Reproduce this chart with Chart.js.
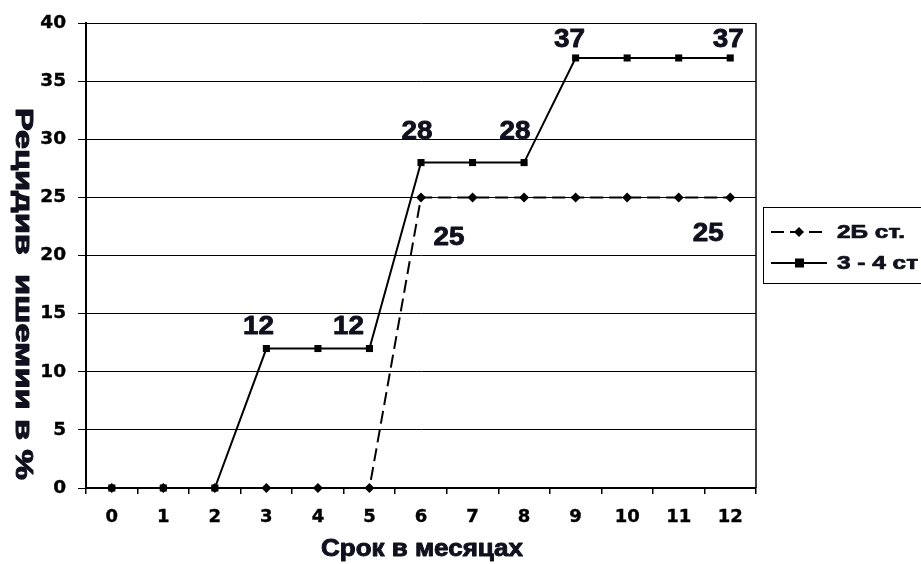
<!DOCTYPE html>
<html>
<head>
<meta charset="utf-8">
<script src="https://cdn.jsdelivr.net/npm/chart.js@4"></script>
<style>
  html, body { margin: 0; padding: 0; background: #fff; }
  #wrap { width: 921px; height: 564px; position: relative; }
</style>
</head>
<body>
<div id="wrap"><canvas id="myChart"></canvas></div>
<script>
const months = ['0', '1', '2', '3', '4', '5', '6', '7', '8', '9', '10', '11', '12'];
const stage2b = [0, 0, 0, 0, 0, 0, 25, 25, 25, 25, 25, 25, 25];
const stage34 = [0, 0, 0, 12, 12, 12, 28, 28, 28, 37, 37, 37, 37];
const yTicks = [0, 5, 10, 15, 20, 25, 30, 35, 40];
const label2b = [6, 12];
const label34 = [3, 5, 6, 8, 9, 12];

const FONT = '"Liberation Sans", Arial, sans-serif';
const TICKFONT = '"DejaVu Sans", sans-serif';
const INK = '#10101e';

// draws text stretched horizontally to a given width (the original image is stretched)
function drawFit(ctx, text, x, y, width, align, stroke) {
  const w = ctx.measureText(text).width;
  const k = width ? width / w : 1;
  ctx.save();
  ctx.translate(x, y);
  ctx.scale(k, 1);
  ctx.textAlign = align || 'center';
  ctx.fillText(text, 0, 0);
  if (stroke) {
    ctx.strokeStyle = ctx.fillStyle;
    ctx.lineWidth = stroke;
    ctx.lineJoin = 'round';
    ctx.strokeText(text, 0, 0);
  }
  ctx.restore();
  return k;
}

// value labels next to the points
const valueLabels = {
  id: 'valueLabels',
  afterDatasetsDraw(chart) {
    const ctx = chart.ctx;
    ctx.save();
    ctx.font = 'bold 25px ' + FONT;
    ctx.fillStyle = INK;
    ctx.textBaseline = 'middle';
    chart.data.datasets.forEach((ds, i) => {
      const meta = chart.getDatasetMeta(i);
      ds.labelAt.forEach(idx => {
        const pt = meta.data[idx];
        const shift = ds.labelShift[idx] || ds.labelShift.def;
        drawFit(ctx, String(ds.data[idx]), pt.x + shift[0], pt.y + shift[1], 31, 'center', 0.8);
      });
    });
    ctx.restore();
  }
};

// frame, rotated y title, x title and the boxed legend
const extras = {
  id: 'extras',
  afterDraw(chart) {
    const ctx = chart.ctx;
    const a = chart.chartArea;
    ctx.save();
    ctx.strokeStyle = '#000';
    ctx.lineWidth = 1.5;
    ctx.beginPath();
    ctx.moveTo(a.right, a.top);
    ctx.lineTo(a.right, a.bottom);
    ctx.stroke();

    ctx.fillStyle = INK;
    ctx.font = 'bold 23px ' + FONT;
    ctx.textBaseline = 'middle';
    drawFit(ctx, 'Срок в месяцах', 422, 550, 202, 'center', 0.9);

    ctx.save();
    ctx.translate(22, 294);
    ctx.rotate(Math.PI / 2);
    ctx.font = 'bold 23px ' + FONT;
    drawFit(ctx, 'Рецидив  ишемии в %', 0, 0, 372, 'center', 1);
    ctx.restore();

    // legend
    ctx.strokeStyle = '#000';
    ctx.lineWidth = 1;
    ctx.strokeRect(763.5, 207.5, 200, 76);
    ctx.font = 'bold 18px ' + FONT;
    const k = 68 / ctx.measureText(chart.data.datasets[0].label).width;
    chart.data.datasets.forEach((ds, i) => {
      const y = 232 + i * 31;
      ctx.save();
      ctx.strokeStyle = '#000';
      ctx.lineWidth = 2;
      ctx.setLineDash(ds.borderDash || []);
      ctx.beginPath();
      ctx.moveTo(771, y);
      ctx.lineTo(827, y);
      ctx.stroke();
      ctx.restore();
      ctx.fillStyle = '#000';
      ctx.beginPath();
      if (ds.pointStyle === 'rectRot') {
        ctx.moveTo(799, y - 5); ctx.lineTo(804, y); ctx.lineTo(799, y + 5); ctx.lineTo(794, y);
      } else {
        ctx.rect(795, y - 4.5, 9, 9);
      }
      ctx.closePath();
      ctx.fill();
      ctx.fillStyle = INK;
      const w = ctx.measureText(ds.label).width * k;
      drawFit(ctx, ds.label, 837, y + 1, w, 'left', 0.7);
    });
    ctx.restore();
  }
};

const ctx = document.getElementById('myChart').getContext('2d');
const myChart = new Chart(ctx, {
  type: 'line',
  data: {
    labels: months,
    datasets: [
      {
        label: '2Б ст.',
        data: stage2b,
        borderColor: '#000',
        backgroundColor: '#000',
        borderWidth: 2,
        borderDash: [13, 6],
        pointStyle: 'rectRot',
        pointRadius: 5,
        pointBorderWidth: 0,
        tension: 0,
        clip: false,
        labelAt: label2b,
        labelShift: { 6: [28, 41], 12: [-22, 37], def: [0, 40] }
      },
      {
        label: '3 - 4 ст',
        data: stage34,
        borderColor: '#000',
        backgroundColor: '#000',
        borderWidth: 2,
        pointStyle: 'rect',
        pointRadius: 5,
        pointBorderWidth: 0,
        tension: 0,
        clip: false,
        labelAt: label34,
        labelShift: { 3: [-8, -21], 5: [-21, -21], 6: [-4, -30], 8: [-9, -30], 9: [-6, -18], 12: [-2, -18], def: [-8, -21] }
      }
    ]
  },
  options: {
    responsive: true,
    maintainAspectRatio: false,
    animation: false,
    layout: {
      padding: { left: 0, right: 165, top: 22, bottom: 0 }
    },
    plugins: {
      legend: { display: false },
      tooltip: { enabled: false }
    },
    scales: {
      x: {
        type: 'category',
        offset: true,
        afterFit: (scale) => { scale.height = 76; },
        grid: {
          offset: true,
          drawOnChartArea: false,
          color: '#000',
          tickLength: 6,
          lineWidth: 1.5
        },
        border: { color: '#000', width: 2 },
        ticks: {
          color: '#000',
          padding: 13,
          textStrokeColor: '#000',
          textStrokeWidth: 0.4,
          font: { family: TICKFONT, size: 18, weight: 'bold' }
        }
      },
      y: {
        min: 0,
        max: 40,
        afterFit: (scale) => { scale.width = 86; },
        afterBuildTicks: (scale) => { scale.ticks = yTicks.map(v => ({ value: v })); },
        grid: {
          color: '#000',
          lineWidth: 1,
          tickLength: 8
        },
        border: { color: '#000', width: 2 },
        ticks: {
          color: '#000',
          padding: 12,
          textStrokeColor: '#000',
          textStrokeWidth: 0.4,
          font: { family: TICKFONT, size: 18.5, weight: 'bold' }
        }
      }
    }
  },
  plugins: [valueLabels, extras]
});
</script>
</body>
</html>
